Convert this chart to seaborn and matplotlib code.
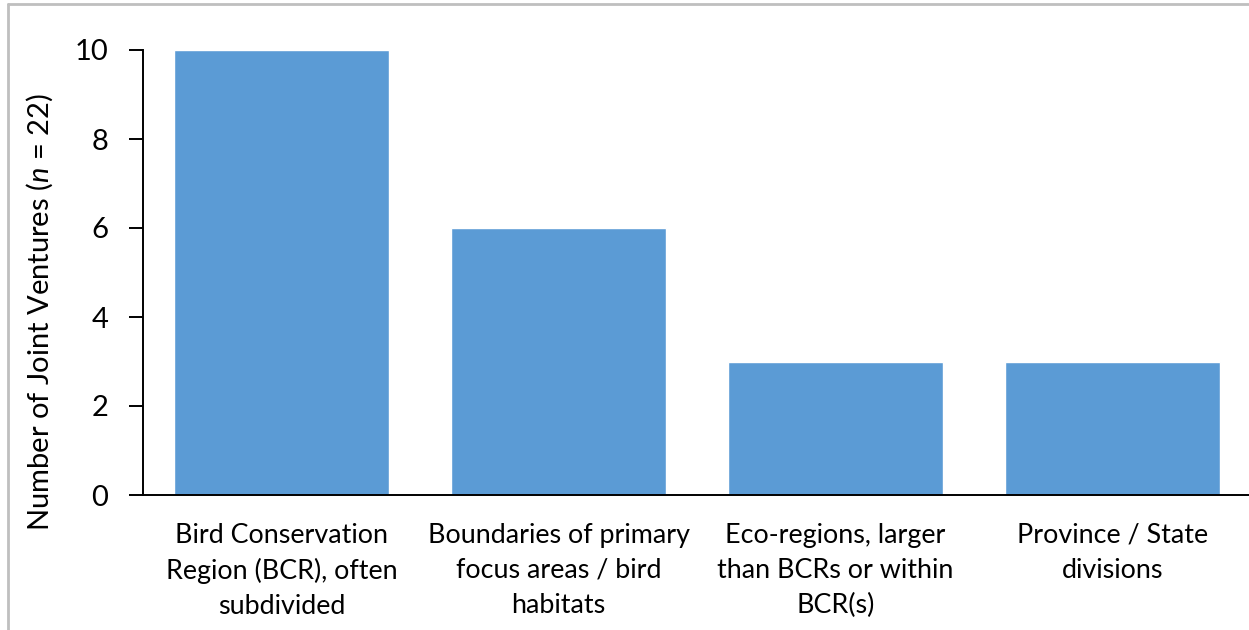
import matplotlib
matplotlib.use("Agg")
import matplotlib.pyplot as plt
from matplotlib.lines import Line2D
import seaborn as sns
import pandas as pd

categories = [
    "Bird Conservation\nRegion (BCR), often\nsubdivided",
    "Boundaries of primary\nfocus areas / bird\nhabitats",
    "Eco-regions, larger\nthan BCRs or within\nBCR(s)",
    "Province / State\ndivisions",
]
counts = [10, 6, 3, 3]
y_ticks = [0, 2, 4, 6, 8, 10]

sns.set_style("ticks")
plt.rcParams["font.family"] = ["Lato", "DejaVu Sans"]
plt.rcParams["mathtext.fontset"] = "custom"
plt.rcParams["mathtext.rm"] = "Lato"
plt.rcParams["mathtext.it"] = "Lato:italic"

df = pd.DataFrame({"category": categories, "count": counts})

fig = plt.figure(figsize=(12.49, 6.30), dpi=100)
ax = fig.add_axes([143 / 1249, 1 - 495 / 630, 1108 / 1249, 445 / 630])

sns.barplot(data=df, x="category", y="count", color="#5B9BD5",
            saturation=1, width=0.773, ax=ax)

ax.set_xlim(-0.5, 3.5)
ax.set_ylim(0, 10)
ax.set_yticks(y_ticks)
ax.set_xlabel("")
ax.set_ylabel(r"Number of Joint Ventures ($n$ = 22)", fontsize=21, color="black")
ax.yaxis.set_label_coords(-0.079, 0.41)

for side in ("top", "right"):
    ax.spines[side].set_visible(False)
for side in ("left", "bottom"):
    ax.spines[side].set_color("black")
    ax.spines[side].set_linewidth(1.4)

ax.tick_params(axis="y", length=10, width=1.4, labelsize=21, pad=15,
               colors="black", direction="out")
ax.tick_params(axis="x", length=0, labelsize=19.4, pad=20, colors="black")
for lab in ax.get_xticklabels():
    lab.set_linespacing(1.5)
    lab.set_ha("center")

# thin grey frame along the left and top edges of the figure
fig.add_artist(Line2D([8 / 1249, 8 / 1249], [0, 1 - 4 / 630],
                      transform=fig.transFigure, color="#BFBFBF", lw=2))
fig.add_artist(Line2D([8 / 1249, 1], [1 - 4 / 630, 1 - 4 / 630],
                      transform=fig.transFigure, color="#BFBFBF", lw=2))

fig.savefig("out.png", dpi=100, facecolor="white")
